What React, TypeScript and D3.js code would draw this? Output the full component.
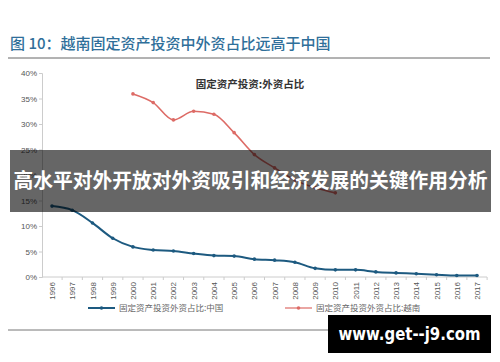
import React, { useRef, useEffect } from 'react';
import * as d3 from 'd3';

const years = ['1996','1997','1998','1999','2000','2001','2002','2003','2004','2005','2006','2007','2008','2009','2010','2011','2012','2013','2014','2015','2016','2017'];
const chinaShare = [13.9, 13.1, 10.6, 7.6, 5.9, 5.3, 5.1, 4.6, 4.2, 4.1, 3.5, 3.3, 2.9, 1.7, 1.4, 1.4, 1.0, 0.8, 0.65, 0.45, 0.3, 0.3];
const vietnamYears = ['2000','2001','2002','2003','2004','2005','2006','2007','2008','2009','2010'];
const vietnamShare = [35.9, 34.2, 30.8, 32.5, 31.9, 28.3, 24.0, 21.4, 19.0, 17.5, 16.5];
const yTicks = [0, 5, 10, 15, 20, 25, 30, 35, 40];

const titleText = '图 10：越南固定资产投资中外资占比远高于中国';
const chartTitle = '固定资产投资:外资占比';
const legendChina = '固定资产投资外资占比:中国';
const legendVietnam = '固定资产投资外资占比:越南';
const bannerText = '高水平对外开放对外资吸引和经济发展的关键作用分析';
const watermark = 'www.get--j9.com';

const CJK = '"Noto Sans CJK SC", "Noto Sans", sans-serif';
const BLUE = '#1d5a80';
const RED = '#dd6b66';

export default function App() {
  const ref = useRef<SVGSVGElement>(null);

  useEffect(() => {
    const svg = d3.select(ref.current);
    svg.selectAll('*').remove();

    const x = d3.scalePoint<string>().domain(years).range([52, 477]);
    const y = d3.scaleLinear().domain([0, 40]).range([277, 73]);

    svg.append('rect').attr('width', 500).attr('height', 362).attr('fill', '#fff');

    // heading
    svg.append('text')
      .attr('x', 10).attr('y', 49)
      .attr('font-family', CJK).attr('font-size', 15).attr('font-weight', 500)
      .attr('fill', '#2f6f9a')
      .text(titleText);
    svg.append('line').attr('x1', 8).attr('x2', 490).attr('y1', 58).attr('y2', 58)
      .attr('stroke', '#666').attr('stroke-width', 1);

    // axes
    const yAxis = svg.append('g').attr('transform', 'translate(42,0)')
      .call(d3.axisLeft(y).tickValues(yTicks).tickSize(3).tickFormat(d => `${d}%`));
    yAxis.select('.domain').attr('stroke', '#ccc');
    yAxis.selectAll('line').attr('stroke', '#ccc');
    yAxis.selectAll('text').attr('font-family', 'Arial, sans-serif').attr('font-size', 8).attr('fill', '#555').attr('x', -5);

    const step = x.step();
    const xAxis = svg.append('g').attr('transform', 'translate(0,277)')
      .call(d3.axisBottom(x).tickSize(0).tickPadding(0));
    xAxis.select('.domain').attr('stroke', '#ccc').attr('d', `M42,0H487`);
    xAxis.selectAll('text')
      .attr('font-family', 'Arial, sans-serif').attr('font-size', 8).attr('fill', '#555')
      .attr('text-anchor', 'end').attr('dy', '0.32em')
      .attr('transform', 'translate(0,5) rotate(-90)').attr('x', 0).attr('y', 0);
    svg.append('g').selectAll('line').data(years).enter().append('line')
      .attr('x1', d => (x(d) as number) + step / 2).attr('x2', d => (x(d) as number) + step / 2)
      .attr('y1', 277).attr('y2', 280).attr('stroke', '#ccc');

    // chart title
    svg.append('text').attr('x', 250).attr('y', 88).attr('text-anchor', 'middle')
      .attr('font-family', CJK).attr('font-size', 10.5).attr('font-weight', 'bold').attr('fill', '#333')
      .text(chartTitle);

    const line = d3.line<[string, number]>()
      .x(d => x(d[0]) as number).y(d => y(d[1])).curve(d3.curveMonotoneX);

    const series = [
      { pts: years.map((yr, i) => [yr, chinaShare[i]] as [string, number]), color: BLUE, w: 2 },
      { pts: vietnamYears.map((yr, i) => [yr, vietnamShare[i]] as [string, number]), color: RED, w: 1.6 },
    ];
    series.forEach(s => {
      svg.append('path').attr('d', line(s.pts)).attr('fill', 'none')
        .attr('stroke', s.color).attr('stroke-width', s.w);
      svg.append('g').selectAll('circle').data(s.pts).enter().append('circle')
        .attr('cx', d => x(d[0]) as number).attr('cy', d => y(d[1])).attr('r', 1.8)
        .attr('fill', s.color);
    });

    // legend
    const legend = [
      { x0: 88, label: legendChina, color: BLUE, w: 2 },
      { x0: 285, label: legendVietnam, color: RED, w: 1.2 },
    ];
    legend.forEach(l => {
      svg.append('line').attr('x1', l.x0).attr('x2', l.x0 + 27).attr('y1', 308).attr('y2', 308)
        .attr('stroke', l.color).attr('stroke-width', l.w);
      svg.append('circle').attr('cx', l.x0 + 13.5).attr('cy', 308).attr('r', 1.8).attr('fill', l.color);
      svg.append('text').attr('x', l.x0 + 31).attr('y', 311)
        .attr('font-family', CJK).attr('font-size', 8.5).attr('fill', '#666').text(l.label);
    });

    svg.append('line').attr('x1', 8).attr('x2', 490).attr('y1', 330).attr('y2', 330)
      .attr('stroke', '#777').attr('stroke-width', 1);

    // overlay banner
    svg.append('rect').attr('x', 10).attr('y', 150).attr('width', 481).attr('height', 62)
      .attr('fill', '#000').attr('opacity', 0.6);
    svg.append('text').attr('x', 250.5).attr('y', 188).attr('text-anchor', 'middle')
      .attr('font-family', CJK).attr('font-size', 20).attr('font-weight', 'bold').attr('fill', '#fff')
      .attr('textLength', 474).attr('lengthAdjust', 'spacingAndGlyphs')
      .text(bannerText);

    svg.append('rect').attr('x', 328).attr('y', 315).attr('width', 163).attr('height', 38).attr('fill', '#000');
    svg.append('text').attr('x', 409.5).attr('y', 340).attr('text-anchor', 'middle')
      .attr('font-family', '"DejaVu Sans", sans-serif').attr('font-size', 18).attr('font-weight', 'bold').attr('fill', '#fff')
      .attr('textLength', 142).attr('lengthAdjust', 'spacingAndGlyphs')
      .text(watermark);
  }, []);

  return (
    <svg ref={ref} width={500} height={362}
      style={{ position: 'absolute', left: 0, top: 0, display: 'block' }} />
  );
}
